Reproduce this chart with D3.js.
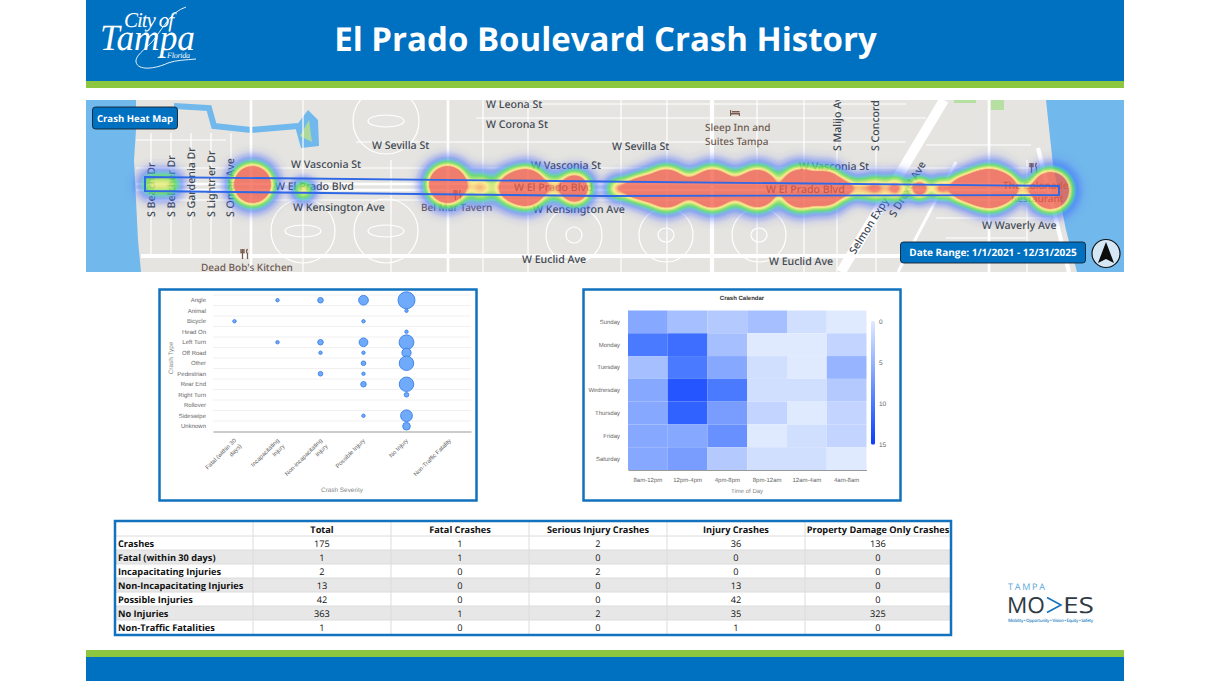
<!DOCTYPE html>
<html lang="en">
<head>
<meta charset="utf-8">
<title>El Prado Boulevard Crash History</title>
<script src="https://cdn.jsdelivr.net/npm/d3@7"></script>
<style>
  html, body { margin: 0; padding: 0; background: #fff; overflow: hidden; }
  svg { display: block; text-rendering: geometricPrecision; }
</style>
</head>
<body>
<svg id="slide" width="1210" height="681"></svg>
<script>
// ---------- Crash bubble chart data ----------
const crashTypes = ["Angle","Animal","Bicycle","Head On","Left Turn","Off Road","Other","Pedestrian","Rear End","Right Turn","Rollover","Sideswipe","Unknown"];
const severities = ["Fatal (within 30 days)","Incapacitating Injury","Non-incapacitating injury","Possible Injury","No Injury","Non-Traffic Fatality"];
const severityLines = [["Fatal (within 30","days)"],["Incapacitating","Injury"],["Non-incapacitating","injury"],["Possible Injury"],["No Injury"],["Non-Traffic Fatality"]];
// one row per crash type, one column per severity
const fatalCounts      = [0,0,1,0,0,0,0,0,0,0,0,0,0];
const incapCounts      = [1,0,0,0,1,0,0,0,0,0,0,0,0];
const nonIncapCounts   = [3,0,0,0,3,1,0,2,0,0,0,0,0];
const possibleCounts   = [10,0,1,0,8,1,2,1,3,0,0,1,0];
const noInjuryCounts   = [32,1,0,1,24,9,23,0,23,2,0,15,6];
const nonTrafficCounts = [0,0,0,0,0,0,0,0,0,0,0,0,0];
const severityCounts = [fatalCounts, incapCounts, nonIncapCounts, possibleCounts, noInjuryCounts, nonTrafficCounts];

// ---------- Crash calendar data ----------
const weekdays = ["Sunday","Monday","Tuesday","Wednesday","Thursday","Friday","Saturday"];
const timeBlocks = ["8am-12pm","12pm-4pm","4pm-8pm","8pm-12am","12am-4am","4am-8am"];
const sundayCounts    = [6,4,3,4,1,0];
const mondayCounts    = [10,11,4,0,0,2];
const tuesdayCounts   = [4,10,6,1,0,5];
const wednesdayCounts = [6,13,10,1,1,3];
const thursdayCounts  = [6,12,7,2,0,2];
const fridayCounts    = [6,6,8,0,1,2];
const saturdayCounts  = [6,7,3,1,1,0];
const calendarCounts = [sundayCounts,mondayCounts,tuesdayCounts,wednesdayCounts,thursdayCounts,fridayCounts,saturdayCounts];

// ---------- Summary table data ----------
const tableColumns = ["Total","Fatal Crashes","Serious Injury Crashes","Injury Crashes","Property Damage Only Crashes"];
const tableRows = ["Crashes","Fatal (within 30 days)","Incapacitating Injuries","Non-Incapacitating Injuries","Possible Injuries","No Injuries","Non-Traffic Fatalities"];
const crashesRow     = [175,1,2,36,136];
const fatalRow       = [1,1,0,0,0];
const incapRow       = [2,0,2,0,0];
const nonIncapRow    = [13,0,0,13,0];
const possibleRow    = [42,0,0,42,0];
const noInjuriesRow  = [363,1,2,35,325];
const nonTrafficRow  = [1,0,0,1,0];
const tableValues = [crashesRow,fatalRow,incapRow,nonIncapRow,possibleRow,noInjuriesRow,nonTrafficRow];

// ---------- Corridor heat spots: map x, map y, weight, spread ----------
const heatSpots = [
  [66,84,.36,8],[82,84,.36,8],[166,84,3.2,10],[217,90,.44,6.5],
  [361,84,3.2,10],[394,87,.55,9],[424,87,1,9.5],[440,87,3,10],[465,87,.4,8],[488,88,1.7,9],
  [531,88,.5,7],[546,88,.7,7.5],[559,88,1.2,8.5],[580,88,3,10.5],[604,88,.7,9],[626,88,3,10.5],[649,88,.7,9],[671,88,2.8,10.5],
  [714,88,3,10.5],[739,88,2.4,10],[759,88,.6,7],
  [774,88,.4,7],[789,88,.6,8],[809,88,.65,8],[833,88,.85,7],[854,88,.6,7],
  [874,88,1,8],[889,88,1.7,9],[904,88,3,10.5],[919,88,1.2,8],[939,89,.35,6],[964,90,3.2,10]
];
const heatDensity = [0,.025,.08,.17,.24,.36,.46,.56,.64,5];
const heatColours = ["rgba(60,90,255,0)","rgba(60,90,255,.22)","rgba(60,110,255,.5)","rgba(70,190,190,.75)","rgba(90,215,100,.85)","rgba(175,230,100,.85)","rgba(250,238,130,.85)","rgba(250,185,100,.8)","rgba(240,92,72,.76)","rgba(240,92,72,.76)"];

// ---------- Base map features, in map units ----------
const waterAreas = [
  [[0,0],[50,0],[50,30],[48,60],[50,100],[52,140],[55,172],[0,172]],
  [[960,0],[1038,0],[1038,172],[991,172],[980,130],[967,65]],
  [[210,26],[222,10],[232,20],[233,46],[215,48],[210,30]]
];
const canal = [[88,6],[123,8],[128,26],[165,30],[212,26]];
const parkArea = [[223,20],[226,42],[214,36]];
const northParks = [[[868,0],[890,0],[890,3],[868,3]],[[905,0],[918,0],[918,10],[905,10]]];
const thinRoads = [
  [[65,33],[65,155]],[[85,33],[85,155]],[[105,33],[105,155]],[[125,33],[125,155]],[[145,33],[145,155]],
  [[217,0],[217,172]],[[305,60],[305,172]],[[397,0],[397,172]],[[442,0],[442,172]],[[535,0],[535,172]],[[581,0],[581,172]],
  [[671,0],[671,172]],[[718,0],[718,172]],[[751,0],[751,172]],[[790,0],[790,172]],[[941,60],[941,172]],
  [[50,68],[950,68]],[[50,40],[140,40]],[[270,42],[820,42]],[[60,100],[955,100]],[[390,18],[840,18]],[[400,4],[820,4]],
  [[850,118],[965,118]],[[840,45],[945,45]],[[860,138],[940,138]]
];
const mainRoads = [
  [[50,84],[965,84]],[[50,90],[965,90]],
  [[165,0],[165,172]],[[362,0],[362,172]],[[903,0],[903,172]]
];
const wideRoads = [
  [[626,0],[626,172]],[[55,156],[985,156]],[[952,48],[983,172]]
];
const expressways = [[[858,0],[755,172]]];
const rampRoads = [[[870,62],[812,172]]];
const ringRoads = [[217,131,32,32],[300,131,32,32],[300,21,33,33],[488,135,28,28],[580,135,27,27],[673,135,27,27],[217,131,18,6],[300,131,18,6],[300,21,18,6],[488,135,8,8],[580,135,8,7],[673,135,8,7]];

const streetLabels = [
  ["W Leona St",400,8,0],["W Corona St",400,28,0],["W Sevilla St",286,49,0],["W Sevilla St",526,50,0],
  ["W Vasconia St",205,68,0],["W Vasconia St",445,69,0],["W Vasconia St",713,70,0],
  ["W El Prado Blvd",189,90,0],["W El Prado Blvd",428,91,0],["W El Prado Blvd",680,93,0],
  ["W Kensington Ave",207,111,0],["W Kensington Ave",447,113,0],["W Euclid Ave",436,163,0],["W Euclid Ave",683,165,0],
  ["W Waverly Ave",896,129,0],
  ["S Beach Dr",69,117,-90],["S Belcher Dr",89,117,-90],["S Gardenia Dr",109,117,-90],["S Lightner Dr",129,117,-90],["S Omar Ave",148,117,-90],
  ["S Malijo Ave",755,51,-90],["S Concord",793,51,-90],["Selmon Expy",769,155,-58],["S Drexel Ave",809,118,-60]
];
const placeLabels = [
  ["Bel Mar Tavern",335,111],["Dead Bob's Kitchen",115,171],["Sleep Inn and",619,31],["Suites Tampa",619,45],["The Colonade",917,89],["Restaurant",925,102]
];
const eateries = [[372,95],[159,154],[948,68]];
const lodgings = [[649,13]];
const corridorOutline = [[59,77],[518,81.5],[973,86],[973,95],[518,96],[59,91]];

// ---------- Shared palette and fonts ----------
const tampaBlue = "#0070c0", tampaGreen = "#8dc63f", frameBlue = "#1272bd";
const uiFont = "'Open Sans', sans-serif", chartFont = "'Liberation Sans', Arial, sans-serif";
const svg = d3.select("#slide");

// ---------- Header and footer bands ----------
svg.append("rect").attr("x",86).attr("y",0).attr("width",1038).attr("height",81).attr("fill",tampaBlue);
svg.append("rect").attr("x",86).attr("y",81).attr("width",1038).attr("height",7).attr("fill",tampaGreen);
svg.append("rect").attr("x",86).attr("y",650).attr("width",1038).attr("height",7).attr("fill",tampaGreen);
svg.append("rect").attr("x",86).attr("y",657).attr("width",1038).attr("height",24).attr("fill",tampaBlue);
svg.append("text").attr("x",605.5).attr("y",51).attr("text-anchor","middle").attr("fill","#fff")
  .attr("font-family",uiFont).attr("font-weight",700).attr("font-size",33).text("El Prado Boulevard Crash History");

// City wordmark
const wordmark = svg.append("g").attr("fill","#fff").attr("font-family","'Liberation Serif', serif").attr("font-style","italic");
wordmark.append("text").attr("x",100).attr("y",50).attr("font-size",37).attr("textLength",95).attr("lengthAdjust","spacingAndGlyphs").text("Tampa");
wordmark.append("text").attr("x",124).attr("y",27).attr("font-size",21).attr("textLength",50).text("City of");
wordmark.append("text").attr("x",167).attr("y",58).attr("font-size",8).attr("textLength",23).text("Florida");
svg.append("path").attr("fill","none").attr("stroke","#fff").attr("stroke-width",.9)
  .attr("d","M186,7 C170,12 162,30 152,42 C144,50 135,56 136,62 C138,71 155,69 168,63 C176,60 186,60 196,59");

// ---------- Heat map panel ----------
const mapX = d3.scaleLinear().domain([0,1038]).range([86,1124]);
const mapY = d3.scaleLinear().domain([0,172]).range([100,272]);
const mapLine = d3.line().x(d => mapX(d[0])).y(d => mapY(d[1]));
const mapArea = d3.line().x(d => mapX(d[0])).y(d => mapY(d[1])).curve(d3.curveLinearClosed);

svg.append("defs").append("clipPath").attr("id","mapClip").append("rect")
  .attr("x",mapX(0)).attr("y",mapY(0)).attr("width",1038).attr("height",172);
const map = svg.append("g").attr("clip-path","url(#mapClip)");
map.append("rect").attr("x",mapX(0)).attr("y",mapY(0)).attr("width",1038).attr("height",172).attr("fill","#e5e4e0");
map.selectAll(".park").data(northParks).join("path").attr("class","park").attr("d",mapArea).attr("fill","#b6dfa2");
map.selectAll(".water").data(waterAreas).join("path").attr("class","water").attr("d",mapArea).attr("fill","#71b8ec");
map.append("path").attr("d",mapArea(parkArea)).attr("fill","#add99c");
map.append("path").datum(canal).attr("d",mapLine).attr("fill","none").attr("stroke","#71b8ec").attr("stroke-width",6);
const drawRoads = (rows, width) => map.append("g").attr("fill","none").attr("stroke","#fff").attr("stroke-width",width)
  .selectAll("path").data(rows).join("path").attr("d",mapLine);
drawRoads(thinRoads,1.2);
map.append("g").attr("fill","none").attr("stroke","#fff").attr("stroke-width",1.2)
  .selectAll("ellipse").data(ringRoads).join("ellipse")
  .attr("cx",d => mapX(d[0])).attr("cy",d => mapY(d[1])).attr("rx",d => d[2]).attr("ry",d => d[3]);
drawRoads(mainRoads,2.6);
drawRoads(wideRoads,4.2);
drawRoads(rampRoads,3);
drawRoads(expressways,10);

const streets = map.append("g").attr("font-family","'Noto Sans', sans-serif").attr("font-size",10.6).attr("font-weight",500).attr("fill","#3f4954");
streets.selectAll("text").data(streetLabels).join("text")
  .attr("transform",d => `translate(${mapX(d[1])},${mapY(d[2])}) rotate(${d[3]})`).text(d => d[0]);
map.append("g").attr("font-family","'Noto Sans', sans-serif").attr("font-size",10).attr("font-weight",500).attr("fill","#6e5a52")
  .selectAll("text").data(placeLabels).join("text").attr("x",d => mapX(d[1])).attr("y",d => mapY(d[2])).text(d => d[0]);

// Small fork-and-knife and bed markers on the map
map.append("g").attr("stroke","#7a5b4f").attr("stroke-width",1.3).attr("fill","none")
  .selectAll("path").data(eateries).join("path")
  .attr("transform",d => `translate(${mapX(d[0])},${mapY(d[1])})`)
  .attr("d","M-2.5,-5 V-1 M-2.5,-1 V5 M-4,-5 V-1.5 H-1 V-5 M2.5,-5 C1,-3 1.5,-1 2.5,-.5 V5");
map.append("g").attr("fill","#7a5b4f").selectAll("path").data(lodgings).join("path")
  .attr("transform",d => `translate(${mapX(d[0])},${mapY(d[1])})`)
  .attr("d","M-5,-3 H-3.8 V0 H5 V3 H3.8 V1.5 H-3.8 V3 H-5 Z M-3,-2 H4.6 V-.6 H-3 Z");

// Kernel density of the crash spots, coloured through a look-up ramp
const heatRamp = d3.scaleLinear().domain(heatDensity).range(heatColours).clamp(true);
const rampLookup = d3.range(0,1001).map(i => d3.rgb(heatRamp(i/1000)));
const heatCanvas = document.createElement("canvas");
heatCanvas.width = 1038; heatCanvas.height = 172;
const heatContext = heatCanvas.getContext("2d");
const heatImage = heatContext.createImageData(1038,172);
for (let row = 0; row < 172; row++) {
  for (let col = 0; col < 1038; col++) {
    let density = 0;
    for (const [sx,sy,weight,spread] of heatSpots) {
      const dx = col - sx, dy = row - sy;
      if (Math.abs(dx) < 50) density += weight * Math.exp(-(dx*dx + dy*dy) / (2*spread*spread));
    }
    const shade = rampLookup[Math.min(1000, Math.round(density*1000))];
    const at = (row*1038 + col)*4;
    heatImage.data[at] = shade.r; heatImage.data[at+1] = shade.g; heatImage.data[at+2] = shade.b;
    heatImage.data[at+3] = shade.opacity*255;
  }
}
heatContext.putImageData(heatImage,0,0);
map.append("image").attr("x",mapX(0)).attr("y",mapY(0)).attr("width",1038).attr("height",172)
  .attr("href",heatCanvas.toDataURL());
map.append("path").attr("d",mapArea(corridorOutline)).attr("fill","none").attr("stroke","#2f68e6").attr("stroke-width",1.9);

// Callouts on top of the map
const badge = (x,y,w,h,label,size) => {
  svg.append("rect").attr("x",x).attr("y",y).attr("width",w).attr("height",h).attr("rx",3)
    .attr("fill",tampaBlue).attr("stroke","#14202e").attr("stroke-width",.9);
  svg.append("text").attr("x",x+w/2).attr("y",y+h/2+3.6).attr("text-anchor","middle").attr("fill","#fff")
    .attr("font-family",uiFont).attr("font-weight",700).attr("font-size",size).text(label);
};
badge(92.5,107,85,22,"Crash Heat Map",9.6);
badge(900.5,242,185,21,"Date Range: 1/1/2021 - 12/31/2025",10);
svg.append("circle").attr("cx",1106).attr("cy",253.5).attr("r",14).attr("fill","#d5e7f5").attr("stroke","#111").attr("stroke-width",1.2);
svg.append("path").attr("d","M1106,242 L1114,263 L1106,259 L1098,263 Z").attr("fill","#0c0c0c");

// ---------- Panel frames ----------
const framePanel = (x,y,w,h) => svg.append("rect").attr("x",x).attr("y",y).attr("width",w).attr("height",h)
  .attr("fill","#fff").attr("stroke",frameBlue).attr("stroke-width",2.5);
framePanel(159.5,289.5,317,211);
framePanel(583.5,289.5,317,211);

// ---------- Crash type by severity bubbles ----------
const bubbleX = d3.scaleBand().domain(severities).range([213,471]);
const bubbleY = d3.scaleBand().domain(crashTypes).range([295,431.5]);
const bubbleR = d3.scaleSqrt().domain([0,32]).range([.24,8.5]);
const bubbleChart = svg.append("g").attr("font-family",chartFont);
bubbleChart.append("g").selectAll("line").data(crashTypes).join("line")
  .attr("x1",213).attr("x2",471).attr("y1",d => bubbleY(d)).attr("y2",d => bubbleY(d))
  .attr("stroke","#ececec").attr("stroke-width",.8);
const bubbleYAxis = bubbleChart.append("g").attr("transform","translate(213,0)").call(d3.axisLeft(bubbleY).tickSize(0).tickPadding(7));
bubbleYAxis.select(".domain").remove();
bubbleYAxis.selectAll("text").attr("font-size",6).attr("font-family",chartFont).attr("fill","#666");
const bubbleXAxis = bubbleChart.append("g").attr("transform","translate(0,431.5)").call(d3.axisBottom(bubbleX).tickSize(0).tickFormat(""));
bubbleXAxis.select(".domain").attr("stroke","#999").attr("stroke-width",1.2);
bubbleChart.append("g").selectAll("text").data(severities).join("text")
  .attr("transform",d => `translate(${bubbleX(d)+bubbleX.bandwidth()/2+2},441) rotate(-45)`)
  .attr("text-anchor","end").attr("font-size",6).attr("fill","#666")
  .each(function(d,i) {
    d3.select(this).selectAll("tspan").data(severityLines[i]).join("tspan")
      .attr("x",0).attr("dy",(t,k) => k ? "1.3em" : 0).text(t => t);
  });
const bubbleCells = severities.flatMap((s,c) => crashTypes.map((t,r) => ({s,t,v:severityCounts[c][r]}))).filter(d => d.v > 0);
bubbleChart.append("g").selectAll("circle").data(bubbleCells).join("circle")
  .attr("cx",d => bubbleX(d.s)+bubbleX.bandwidth()/2).attr("cy",d => bubbleY(d.t)+bubbleY.bandwidth()/2)
  .attr("r",d => bubbleR(d.v)).attr("fill","#6fabfa").attr("stroke","#3b7fe6").attr("stroke-width",.9);
bubbleChart.append("text").attr("x",342).attr("y",492).attr("text-anchor","middle").attr("font-size",6.4).attr("fill","#888").text("Crash Severity");
bubbleChart.append("text").attr("transform","translate(173,358) rotate(-90)").attr("text-anchor","middle").attr("font-size",6.4).attr("fill","#888").text("Crash Type");

// ---------- Crash calendar ----------
const calX = d3.scaleBand().domain(timeBlocks).range([628,866.5]);
const calY = d3.scaleBand().domain(weekdays).range([310.5,470]);
const calColour = d3.scaleLinear().domain([0,5,10,15]).range(["#e0eaff","#96b4ff","#4a7aff","#0a3dff"]);
const calendar = svg.append("g").attr("font-family",chartFont);
calendar.append("text").attr("x",742).attr("y",300).attr("text-anchor","middle").attr("font-size",6).attr("font-weight",700).attr("fill","#333").text("Crash Calendar");
const calCells = weekdays.flatMap((w,r) => timeBlocks.map((t,c) => ({w,t,v:calendarCounts[r][c]})));
calendar.append("g").selectAll("rect").data(calCells).join("rect")
  .attr("x",d => calX(d.t)).attr("y",d => calY(d.w)).attr("width",calX.bandwidth()).attr("height",calY.bandwidth())
  .attr("fill",d => calColour(d.v));
const calYAxis = calendar.append("g").attr("transform","translate(628,0)").call(d3.axisLeft(calY).tickSize(0).tickPadding(8));
calYAxis.select(".domain").remove();
calYAxis.selectAll("text").attr("font-size",6).attr("font-family",chartFont).attr("fill","#666");
const calXAxis = calendar.append("g").attr("transform","translate(0,470)").call(d3.axisBottom(calX).tickSize(0).tickPadding(8));
calXAxis.select(".domain").attr("stroke","#999").attr("stroke-width",1.2);
calXAxis.selectAll("text").attr("font-size",6).attr("font-family",chartFont).attr("fill","#666");
calendar.append("text").attr("x",747).attr("y",493).attr("text-anchor","middle").attr("font-size",6).attr("fill","#888").text("Time of Day");

// Colour legend for the calendar
const legendScale = d3.scaleLinear().domain([0,15]).range([321,444.5]);
const legendGradient = svg.select("defs").append("linearGradient").attr("id","calLegend").attr("x1",0).attr("x2",0).attr("y1",0).attr("y2",1);
legendGradient.selectAll("stop").data(d3.range(0,16)).join("stop")
  .attr("offset",d => d/15).attr("stop-color",d => calColour(d));
calendar.append("rect").attr("x",871).attr("y",321).attr("width",4).attr("height",123.5).attr("rx",1.5).attr("fill","url(#calLegend)");
const legendAxis = calendar.append("g").attr("transform","translate(875,0)").call(d3.axisRight(legendScale).tickValues([0,5,10,15]).tickSize(0).tickPadding(4));
legendAxis.select(".domain").remove();
legendAxis.selectAll("text").attr("font-size",6.5).attr("font-family",chartFont).attr("fill","#666");

// ---------- Summary table ----------
const columnWidths = [138,138,138,138,138,146];
const columnEdges = d3.cumsum([0,...columnWidths]).map(d => d+115);
const rowY = d3.scaleBand().domain(["",...tableRows]).range([522,634]);
const table = svg.append("g").attr("font-family",uiFont).attr("font-size",9.2).attr("fill","#111");
table.append("rect").attr("x",115).attr("y",522).attr("width",836).attr("height",112).attr("fill","#fff");
table.append("g").selectAll("rect").data(tableRows.filter((d,i) => i % 2 === 1)).join("rect")
  .attr("x",115).attr("y",d => rowY(d)).attr("width",836).attr("height",rowY.bandwidth()).attr("fill","#e7e7e7");
table.append("g").selectAll("line").data(columnEdges.slice(1,-1)).join("line")
  .attr("x1",d => d).attr("x2",d => d).attr("y1",522).attr("y2",634).attr("stroke","#dcdcdc").attr("stroke-width",1);
table.append("g").selectAll("line").data(tableRows).join("line")
  .attr("x1",115).attr("x2",951).attr("y1",d => rowY(d)).attr("y2",d => rowY(d)).attr("stroke","#dcdcdc").attr("stroke-width",1);
const columnCentre = i => (columnEdges[i+1]+columnEdges[i+2])/2;
table.append("g").selectAll("text").data(tableColumns).join("text")
  .attr("x",(d,i) => columnCentre(i)).attr("y",rowY("")+10.5).attr("text-anchor","middle").attr("font-weight",700).text(d => d);
table.append("g").selectAll("text").data(tableRows).join("text")
  .attr("x",118).attr("y",d => rowY(d)+10.5).attr("font-weight",700).text(d => d);
tableRows.forEach((row,r) => {
  table.append("g").selectAll("text").data(tableValues[r]).join("text")
    .attr("x",(d,i) => columnCentre(i)).attr("y",rowY(row)+10.5).attr("text-anchor","middle").text(d => d);
});
svg.append("rect").attr("x",115).attr("y",521).attr("width",836).attr("height",114).attr("fill","none").attr("stroke",frameBlue).attr("stroke-width",2.5);

// ---------- Program wordmark ----------
const moves = svg.append("g").attr("font-family",uiFont);
moves.append("text").attr("x",1008).attr("y",590).attr("font-size",9).attr("fill","#5aa7dc").attr("textLength",37).text("TAMPA");
moves.append("text").attr("x",1007).attr("y",613).attr("font-size",22).attr("fill","#2f3a44").attr("textLength",38).attr("lengthAdjust","spacingAndGlyphs").text("MO");
moves.append("path").attr("d","M1047,597.5 L1061,605 L1047,612.5").attr("fill","none").attr("stroke","#1272bd").attr("stroke-width",1.6);
moves.append("text").attr("x",1063).attr("y",613).attr("font-size",22).attr("fill","#2f3a44").attr("textLength",31).attr("lengthAdjust","spacingAndGlyphs").text("ES");
moves.append("text").attr("x",1008).attr("y",621.5).attr("font-size",4.4).attr("font-weight",600).attr("fill","#2a84c8").attr("textLength",85).text("Mobility • Opportunity • Vision • Equity • Safety");
</script>
</body>
</html>
